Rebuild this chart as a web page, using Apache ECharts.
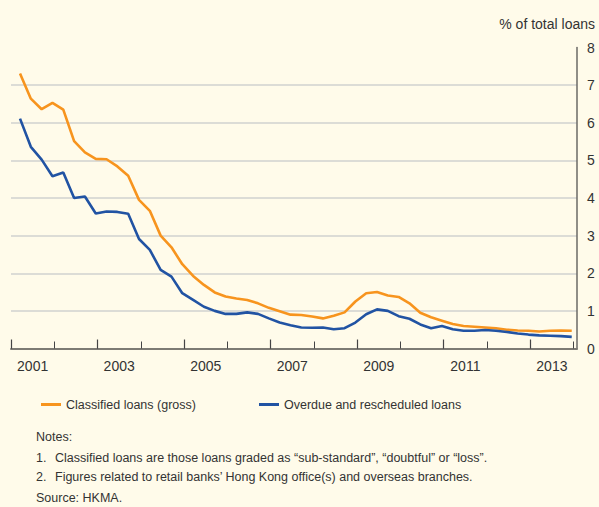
<!DOCTYPE html>
<html>
<head>
<meta charset="utf-8">
<script src="https://cdn.jsdelivr.net/npm/echarts@6/dist/echarts.min.js"></script>
<style>
  html, body { margin: 0; padding: 0; background: #fffbea; }
  #chart { width: 599px; height: 507px; }
</style>
</head>
<body>
<div id="chart"></div>
<script>
// quarter-end months, Mar 2001 .. Dec 2013
const quarters = []
for (let y = 2001; y <= 2013; y++) {
  ;['03', '06', '09', '12'].forEach(m => quarters.push(y + '-' + m))
}

// % of total loans
const classified = [7.31, 6.64, 6.36, 6.53, 6.35, 5.51, 5.21, 5.04, 5.03, 4.84,
  4.59, 3.95, 3.66, 3.00, 2.69, 2.24, 1.93, 1.69, 1.49, 1.38,
  1.33, 1.29, 1.20, 1.08, 0.99, 0.90, 0.89, 0.85, 0.80, 0.87,
  0.96, 1.25, 1.47, 1.50, 1.41, 1.37, 1.20, 0.95, 0.83, 0.74,
  0.65, 0.60, 0.58, 0.56, 0.54, 0.50, 0.48, 0.47, 0.45, 0.47,
  0.48, 0.47]
const overdue = [6.11, 5.36, 5.02, 4.58, 4.68, 4.00, 4.04, 3.59, 3.64, 3.63,
  3.58, 2.91, 2.62, 2.09, 1.91, 1.47, 1.29, 1.11, 1.00, 0.92,
  0.92, 0.96, 0.92, 0.80, 0.69, 0.62, 0.56, 0.55, 0.56, 0.51,
  0.54, 0.69, 0.91, 1.04, 1.00, 0.86, 0.79, 0.64, 0.54, 0.60,
  0.51, 0.47, 0.47, 0.49, 0.47, 0.44, 0.40, 0.37, 0.35, 0.34,
  0.33, 0.31]

const yearTicks = [2001, 2002, 2003, 2004, 2005, 2006, 2007, 2008, 2009, 2010, 2011, 2012, 2013, 2014]
const majorTicks = [2001, 2003, 2005, 2007, 2009, 2011, 2013]
const yearLabels = [2001, 2003, 2005, 2007, 2009, 2011, 2013]

const notes = [
  ['1.', 'Classified loans are those loans graded as \u201csub-standard\u201d, \u201cdoubtful\u201d or \u201closs\u201d.'],
  ['2.', 'Figures related to retail banks\u2019 Hong Kong office(s) and overseas branches.']
]

// month string -> position on the year axis (middle of the month)
function toYear(s) {
  const p = s.split('-')
  return +p[0] + (+p[1] - 0.5) / 12
}
const FONT = '"Liberation Sans", Arial, Helvetica, sans-serif'
const TEXT = '#333333'

const xMin = 2001
const xMax = 2014.08

const chart = echarts.init(document.getElementById('chart'), null, { renderer: 'svg' })

const noteGraphics = [{
  type: 'text', left: 36, top: 430,
  style: { text: 'Notes:', fill: TEXT, font: '12.5px ' + FONT }
}]
notes.forEach((n, i) => {
  noteGraphics.push({
    type: 'text', left: 36, top: 451 + i * 19.5,
    style: { text: n[0], fill: TEXT, font: '12.5px ' + FONT }
  })
  noteGraphics.push({
    type: 'text', left: 55, top: 451 + i * 19.5,
    style: { text: n[1], fill: TEXT, font: '12.5px ' + FONT }
  })
})
noteGraphics.push({
  type: 'text', left: 36, top: 491,
  style: { text: 'Source: HKMA.', fill: TEXT, font: '12.5px ' + FONT }
})
noteGraphics.push({
  type: 'text', right: 4, top: 17,
  style: { text: '% of total loans', fill: TEXT, font: '14px ' + FONT }
})

const option = {
  backgroundColor: '#fffbea',
  animation: false,
  textStyle: { fontFamily: FONT },
  grid: { left: 11, right: 22, top: 47.5, bottom: 158.5, containLabel: false },
  legend: [{
    left: 36, top: 393,
    data: ['Classified loans (gross)'],
    icon: 'rect', itemWidth: 20, itemHeight: 3,
    textStyle: { color: TEXT, fontSize: 12.5, fontFamily: FONT }
  }, {
    left: 254, top: 393,
    data: ['Overdue and rescheduled loans'],
    icon: 'rect', itemWidth: 20, itemHeight: 3,
    textStyle: { color: TEXT, fontSize: 12.5, fontFamily: FONT }
  }],
  xAxis: [{
    type: 'value', min: xMin, max: xMax, interval: 1,
    axisLine: { show: true, lineStyle: { color: '#7d7b74', width: 2 } },
    axisTick: { show: true, inside: true, length: 7, customValues: yearTicks, lineStyle: { color: '#444', width: 1 } },
    axisLabel: {
      show: true, customValues: yearLabels.map(y => y + 0.5),
      formatter: v => String(Math.floor(v)),
      color: TEXT, fontSize: 14, margin: 10, fontFamily: FONT
    },
    splitLine: { show: false }
  }, {
    type: 'value', min: xMin, max: xMax, interval: 1, position: 'bottom',
    axisLine: { show: false },
    axisTick: { show: true, inside: true, length: 9, customValues: majorTicks, lineStyle: { color: '#444', width: 1.2 } },
    axisLabel: { show: false },
    splitLine: { show: false }
  }],
  yAxis: {
    type: 'value', position: 'right', min: 0, max: 8, interval: 1,
    axisLine: { show: true, lineStyle: { color: '#6b6a66', width: 1.5 } },
    axisTick: { show: false },
    axisLabel: { color: TEXT, fontSize: 14, margin: 10, fontFamily: FONT },
    splitLine: { show: true, showMinLine: false, showMaxLine: false, lineStyle: { color: '#dcdcd6', width: 2 } }
  },
  series: [{
    name: 'Classified loans (gross)',
    type: 'line',
    data: quarters.map((q, i) => [toYear(q), classified[i]]),
    symbol: 'none',
    lineStyle: { color: '#f7941e', width: 2.6 },
    itemStyle: { color: '#f7941e' },
    z: 3
  }, {
    name: 'Overdue and rescheduled loans',
    type: 'line',
    data: quarters.map((q, i) => [toYear(q), overdue[i]]),
    symbol: 'none',
    lineStyle: { color: '#2153a3', width: 2.6 },
    itemStyle: { color: '#2153a3' },
    z: 4
  }],
  graphic: noteGraphics
}
chart.setOption(option)
</script>
</body>
</html>
